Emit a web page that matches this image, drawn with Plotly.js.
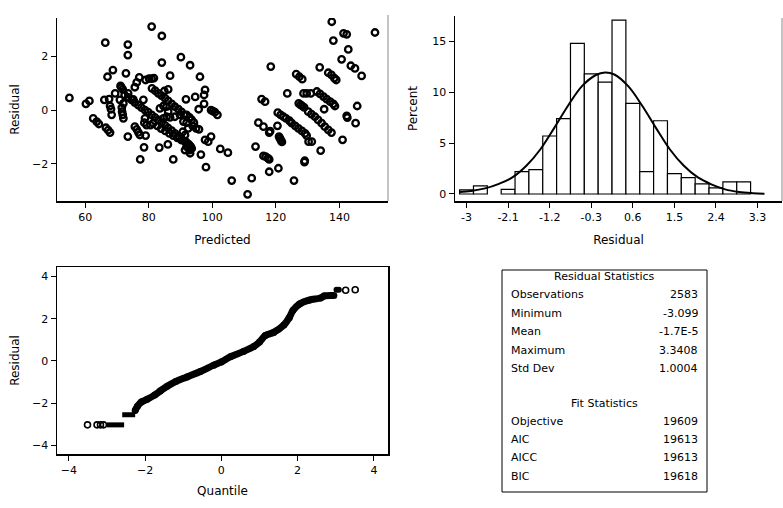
<!DOCTYPE html>
<html>
<head>
<meta charset="utf-8">
<script src="https://cdn.plot.ly/plotly-3.0.1.min.js"></script>
<style>html,body{margin:0;padding:0;background:#fff;}#chart{width:783px;height:508px;}</style>
</head>
<body>
<div id="chart"></div>
<script>
// ---------- Residual vs Predicted ----------
var predicted = [
55.0,60.2,61.3,66.3,73.4,73.4,80.9,84.1,68.7,67.0,72.8,84.1,90.1,93.0,86.7,96.1,69.4,66.0,67.5,62.5,63.6,64.3,66.5,67.2,67.8,68.3,73.4,77.3,78.5,79.0,83.3,86.0,87.7,78.6,91.7,94.6,95.7,97.4,97.7,97.4,95.8,96.4,98.0,97.7,98.7,99.6,99.6,100.2,100.8,101.6,102.5,104.9,106.1,111.1,112.4,
76.2,77.0,75.6,79.0,80.1,80.9,81.6,71.1,71.4,71.8,72.4,73.5,75.1,70.9,72.0,71.5,71.6,71.8,72.0,67.8,68.1,
81.0,82.0,83.0,84.0,85.1,86.1,87.2,88.2,89.3,90.3,91.1,
73.5,74.6,75.6,76.7,77.7,78.8,79.8,80.9,81.9,83.0,84.0,85.1,86.1,87.2,88.2,89.3,90.3,91.4,92.4,93.2,
81.4,82.7,83.9,85.2,86.5,87.7,89.0,90.3,91.7,92.8,
83.5,84.6,85.6,86.1,85.6,84.6,86.7,88.2,89.8,
91.9,92.8,93.5,94.2,91.9,92.4,93.8,94.9,90.9,
79.3,80.5,75.6,76.2,76.7,77.2,78.8,78.3,84.9,86.1,91.9,92.8,93.5,93.0,90.7,91.4,91.4,
115.5,116.6,114.5,116.1,113.6,116.1,116.8,117.5,117.9,117.9,118.2,118.4,117.9,120.5,120.8,121.0,121.3,121.6,121.9,
120.6,121.5,122.4,123.2,124.3,123.6,126.4,127.4,128.3,125.7,
125.0,126.1,127.1,128.2,129.2,129.7,
127.2,127.8,128.3,128.9,128.7,129.7,131.0,129.0,129.1,
130.2,131.2,132.3,133.3,134.4,135.4,136.5,137.5,130.3,131.3,
132.9,133.9,135.0,136.0,137.1,138.1,138.6,133.8,134.1,135.2,
136.5,137.5,138.4,139.0,137.6,138.1,140.7,141.0,141.3,142.3,142.8,142.3,142.5,143.6,144.9,145.1,145.6,147.0,151.2
];
var residual = [
0.46,0.24,0.35,2.52,2.45,2.06,3.12,2.77,1.50,1.25,1.38,1.78,1.98,1.68,1.29,1.25,0.63,0.39,0.42,-0.30,-0.42,-0.51,-0.65,-0.74,-0.83,-0.17,-0.98,-1.83,-1.38,-0.94,-1.39,-1.27,-1.83,-0.46,0.41,0.50,0.04,0.57,0.76,0.24,-0.71,-1.65,-2.12,-1.10,-1.17,-0.98,0.01,-0.03,-0.07,-0.17,-1.44,-1.58,-2.62,-3.13,-2.53,
1.04,1.23,0.86,1.13,1.18,1.18,1.20,0.91,0.85,0.78,0.57,0.63,0.41,0.39,0.26,0.10,-0.05,-0.17,-0.30,0.16,0.04,
0.82,0.73,0.63,0.55,0.45,0.35,0.24,0.14,0.04,-0.06,-0.17,
0.48,0.39,0.29,0.19,0.10,0.01,-0.07,-0.17,-0.26,-0.36,-0.46,-0.56,-0.66,-0.76,-0.86,-0.96,-1.06,-1.16,-1.25,-1.35,
-0.48,-0.58,-0.68,-0.77,-0.86,-0.94,-1.03,-1.11,-1.18,-1.30,
0.07,0.16,0.14,-0.05,-0.24,-0.30,-0.26,-0.24,-0.17,
-0.17,-0.26,-0.36,-0.46,-0.46,-0.67,-0.58,-0.67,-0.42,
-0.55,-0.55,-0.61,-0.71,-0.82,-0.92,-0.30,0.39,0.72,0.78,-1.35,-1.48,-1.42,-1.60,-0.80,-0.92,-1.48,
0.42,0.32,-0.46,-0.61,-1.35,-1.70,-1.73,-1.78,-1.83,-0.83,-0.78,1.63,-2.29,-0.58,-2.16,-0.98,-1.05,-1.12,-1.18,
-0.09,-0.17,-0.24,-0.30,-0.39,0.63,1.35,1.25,1.16,-2.62,
-0.48,-0.58,-0.67,-0.77,-0.86,-0.94,
0.26,0.20,0.16,0.11,0.63,0.63,0.63,-1.93,-1.88,
-0.05,-0.14,-0.24,-0.36,-0.48,-0.61,-0.73,-0.83,-1.17,-1.17,
0.70,0.61,0.51,0.42,0.32,0.24,0.16,1.60,-1.50,0.04,
1.40,1.32,1.20,1.13,3.30,2.60,1.90,-1.10,2.87,2.83,2.27,-0.21,-0.27,1.66,1.56,-0.48,0.16,1.28,2.90
];

// ---------- Histogram of residuals ----------
var binMid = [-3.0,-2.7,-2.1,-1.8,-1.5,-1.2,-0.9,-0.6,-0.3,0.0,0.3,0.6,0.9,1.2,1.5,1.8,2.1,2.4,2.7,3.0];
var percent = [0.4,0.8,0.45,2.2,2.4,5.7,7.4,14.8,11.8,11.0,17.1,8.9,2.2,7.2,2.0,1.6,1.0,0.6,1.2,1.2];
var curveX = [-3.15,-2.9,-2.6,-2.3,-2.0,-1.7,-1.4,-1.1,-0.8,-0.5,-0.2,0.0,0.2,0.5,0.8,1.1,1.4,1.7,2.0,2.3,2.6,2.9,3.2,3.45];
var curveY = [0.2,0.3,0.55,1.0,1.65,2.8,4.4,6.5,8.7,10.6,11.7,11.95,11.75,10.6,8.7,6.5,4.4,2.8,1.65,0.95,0.45,0.2,0.08,0.02];
var histTicks = [-3,-2.1,-1.2,-0.3,0.6,1.5,2.4,3.3];
var histTickText = ['-3','-2.1','-1.2','-0.3','0.6','1.5','2.4','3.3'];

// ---------- Q-Q plot ----------
var qqX = [-2.26,-2.2,-2.1,-1.95,-1.75,-1.6,-1.42,-1.2,-0.9,-0.55,-0.2,0,0.24,0.58,0.85,1.0,1.15,1.37,1.64,1.78,1.88,2.05,2.3,2.6,2.7,2.95];
var qqY = [-2.35,-2.15,-1.95,-1.82,-1.62,-1.42,-1.2,-0.98,-0.76,-0.5,-0.2,-0.05,0.2,0.45,0.68,0.9,1.2,1.35,1.7,2.05,2.4,2.7,2.88,2.98,3.08,3.1];
var qqLowX = [-3.0,-2.55,null,-2.6,-2.26];
var qqLowY = [-3.03,-3.03,null,-2.55,-2.55];
var qqTopX = [3.02,3.08];
var qqTopY = [3.37,3.37];
var qqOpenX = [-3.51,-3.26,-3.17,-3.09,3.26,3.51];
var qqOpenY = [-3.03,-3.03,-3.03,-3.03,3.35,3.37];

// ---------- Statistics table ----------
var resStatLabels = ['Observations','Minimum','Mean','Maximum','Std Dev'];
var resStatValues = ['2583','-3.099','-1.7E-5','3.3408','1.0004'];
var fitStatLabels = ['Objective','AIC','AICC','BIC'];
var fitStatValues = ['19609','19613','19613','19618'];

var W = 783, H = 508;
function px(x){return x/W;}
function py(y){return 1 - y/H;}
var FONT = 'DejaVu Sans, Liberation Sans, sans-serif';

var traces = [
  {type:'scatter', mode:'markers', x:predicted, y:residual, xaxis:'x', yaxis:'y',
   marker:{symbol:'circle-open', size:6.5, color:'#000', line:{width:2.3, color:'#000'}}, hoverinfo:'skip'},
  {type:'bar', x:binMid, y:percent, xaxis:'x2', yaxis:'y2', width:0.3,
   marker:{color:'#fff', line:{color:'#000', width:1.2}}, hoverinfo:'skip'},
  {type:'scatter', mode:'lines', x:curveX, y:curveY, xaxis:'x2', yaxis:'y2',
   line:{color:'#000', width:2, shape:'spline'}, hoverinfo:'skip'},
  {type:'scatter', mode:'lines+markers', x:qqX, y:qqY, xaxis:'x3', yaxis:'y3',
   line:{color:'#000', width:7, shape:'spline'}, marker:{size:7, color:'#000'}, hoverinfo:'skip'},
  {type:'scatter', mode:'lines', x:qqLowX, y:qqLowY, xaxis:'x3', yaxis:'y3',
   line:{color:'#000', width:5}, hoverinfo:'skip'},
  {type:'scatter', mode:'markers', x:qqTopX, y:qqTopY, xaxis:'x3', yaxis:'y3',
   marker:{size:6, color:'#000'}, hoverinfo:'skip'},
  {type:'scatter', mode:'markers', x:qqOpenX, y:qqOpenY, xaxis:'x3', yaxis:'y3',
   marker:{symbol:'circle-open', size:6, color:'#000', line:{width:1.6, color:'#000'}}, hoverinfo:'skip'}
];

function axisBase(extra){
  var a = {showgrid:false, zeroline:false, showline:true, linecolor:'#000', linewidth:1.5,
           ticks:'outside', ticklen:5, tickwidth:1, tickcolor:'#000',
           tickfont:{family:FONT, size:11, color:'#000'}, fixedrange:true};
  for (var k in extra) a[k] = extra[k];
  return a;
}
var titleFont = {family:FONT, size:12, color:'#000'};

var annotations = [];
annotations.push({xref:'paper', yref:'paper', x:px(604), y:py(276), text:'Residual Statistics', showarrow:false,
  xanchor:'center', yanchor:'middle', font:{family:FONT, size:11, color:'#000'}});
var rowsY1 = [294,313,331,350,368];
for (var i=0;i<resStatLabels.length;i++){
  annotations.push({xref:'paper', yref:'paper', x:px(509), y:py(rowsY1[i]), text:resStatLabels[i], showarrow:false,
    xanchor:'left', yanchor:'middle', font:{family:FONT, size:11, color:'#000'}});
  annotations.push({xref:'paper', yref:'paper', x:px(700), y:py(rowsY1[i]), text:resStatValues[i], showarrow:false,
    xanchor:'right', yanchor:'middle', font:{family:FONT, size:11, color:'#000'}});
}
annotations.push({xref:'paper', yref:'paper', x:px(604), y:py(403), text:'Fit Statistics', showarrow:false,
  xanchor:'center', yanchor:'middle', font:{family:FONT, size:11, color:'#000'}});
var rowsY2 = [421,439,457,476];
for (var j=0;j<fitStatLabels.length;j++){
  annotations.push({xref:'paper', yref:'paper', x:px(509), y:py(rowsY2[j]), text:fitStatLabels[j], showarrow:false,
    xanchor:'left', yanchor:'middle', font:{family:FONT, size:11, color:'#000'}});
  annotations.push({xref:'paper', yref:'paper', x:px(700), y:py(rowsY2[j]), text:fitStatValues[j], showarrow:false,
    xanchor:'right', yanchor:'middle', font:{family:FONT, size:11, color:'#000'}});
}

var layout = {
  width:W, height:H, margin:{l:0,r:0,t:0,b:0}, showlegend:false,
  paper_bgcolor:'#fff', plot_bgcolor:'#fff', bargap:0,
  font:{family:FONT, size:11, color:'#000'},
  xaxis: axisBase({domain:[px(57),px(388)], range:[51.1,155.3], tickvals:[60,80,100,120,140], anchor:'y',
    title:{text:'Predicted', font:titleFont, standoff:13}}),
  yaxis: axisBase({domain:[py(201),py(18)], range:[-3.38,3.44], tickvals:[-2,0,2], anchor:'x',
    title:{text:'Residual', font:titleFont, standoff:10}}),
  xaxis2: axisBase({domain:[px(455),px(782)], range:[-3.25,3.83], tickvals:histTicks, ticktext:histTickText, anchor:'y2',
    title:{text:'Residual', font:titleFont, standoff:13}}),
  yaxis2: axisBase({domain:[py(201),py(16)], range:[-0.69,17.5], tickvals:[0,5,10,15], anchor:'x2',
    title:{text:'Percent', font:titleFont, standoff:12}}),
  xaxis3: axisBase({domain:[px(57),px(388)], range:[-4.31,4.37], tickvals:[-4,-2,0,2,4], anchor:'y3', mirror:true,
    title:{text:'Quantile', font:titleFont, standoff:11}}),
  yaxis3: axisBase({domain:[py(454),py(267)], range:[-4.41,4.45], tickvals:[-4,-2,0,2,4], anchor:'x3', mirror:true,
    title:{text:'Residual', font:titleFont, standoff:10}}),
  shapes: [
    {type:'line', xref:'paper', yref:'paper', x0:px(388), x1:px(388), y0:py(201), y1:py(15), line:{color:'#888', width:1}},
    {type:'line', xref:'paper', yref:'paper', x0:px(782), x1:px(782), y0:py(201), y1:py(18), line:{color:'#888', width:1}},
    {type:'rect', xref:'paper', yref:'paper', x0:px(502), x1:px(707), y0:py(492), y1:py(270), line:{color:'#000', width:1}, fillcolor:'rgba(0,0,0,0)'}
  ],
  annotations: annotations
};

Plotly.newPlot('chart', traces, layout, {staticPlot:true, displayModeBar:false});
</script>
</body>
</html>
